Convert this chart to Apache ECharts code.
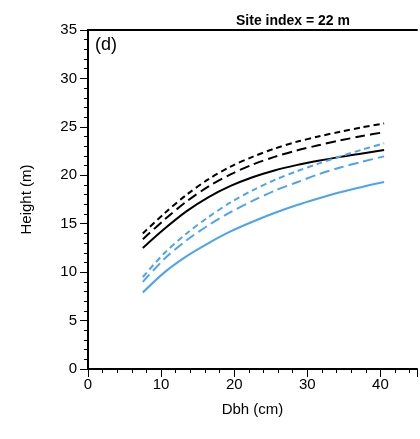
<!DOCTYPE html>
<html><head><meta charset="utf-8">
<script src="https://cdn.jsdelivr.net/npm/echarts@6/dist/echarts.min.js"></script>
<style>html,body{margin:0;padding:0;background:#fff}#c{width:420px;height:439px}</style>
</head><body><div id="c"></div>
<script>
const dbh = [7.5, 10.5, 13.5, 16.5, 19.5, 22.5, 25.5, 28.5, 31.5, 34.5, 37.5, 40.5];
const blackShortDash = [14.0, 16.1, 18.0, 19.6, 20.9, 21.9, 22.75, 23.45, 24.0, 24.5, 24.95, 25.35];
const blackLongDash  = [13.4, 15.45, 17.3, 18.85, 20.1, 21.1, 21.9, 22.55, 23.1, 23.6, 24.05, 24.45];
const blackSolid     = [12.5, 14.5, 16.3, 17.75, 18.9, 19.8, 20.5, 21.05, 21.5, 21.9, 22.25, 22.6];
const blueShortDash  = [9.5, 12.0, 14.0, 15.7, 17.2, 18.45, 19.5, 20.4, 21.2, 21.95, 22.65, 23.3];
const blueLongDash   = [9.0, 11.4, 13.3, 14.85, 16.2, 17.35, 18.4, 19.25, 20.1, 20.8, 21.4, 21.95];
const blueSolid      = [7.9, 10.0, 11.65, 13.0, 14.2, 15.2, 16.1, 16.9, 17.6, 18.25, 18.8, 19.3];
const xTicks = [0, 10, 20, 30, 40];
const titleText = 'Site index = 22 m';
const panelLabel = '(d)';

const BLACK = '#000000', BLUE = '#4ca3f2';
const FONT = 'Liberation Sans, Arial, sans-serif';
function mk(vals, color, dash) {
  return {
    type: 'line', data: dbh.map((x, i) => [x, vals[i]]), smooth: 0.3,
    showSymbol: false, symbol: 'none',
    lineStyle: { color: color, width: 2, type: dash }
  };
}
const chart = echarts.init(document.getElementById('c'));
chart.setOption({
  animation: false,
  title: { text: titleText, left: 288, top: 9, textAlign: 'center',
    textStyle: { fontFamily: FONT, fontSize: 14, fontWeight: 'bold', color: '#000' } },
  grid: { left: 88, top: 30, bottom: 70, right: -5.5, containLabel: false },
  xAxis: [{
    type: 'value', min: 0, max: 45, interval: 10,
    name: 'Dbh (cm)', nameLocation: 'middle', nameGap: 33,
    nameTextStyle: { fontFamily: FONT, fontSize: 15, color: '#000' },
    axisLine: { lineStyle: { color: '#000', width: 2 } },
    axisTick: { length: 8, lineStyle: { color: '#000', width: 1 } },
    minorTick: { show: true, splitNumber: 5, length: 4, lineStyle: { color: '#000', width: 1 } },
    axisLabel: { margin: 8, fontFamily: FONT, fontSize: 15, color: '#000',
      formatter: v => xTicks.indexOf(v) >= 0 ? String(v) : '' },
    splitLine: { show: false }
  }, {
    type: 'value', position: 'top', min: 0, max: 45,
    axisLine: { show: true, onZero: false, lineStyle: { color: '#000', width: 2 } },
    axisTick: { show: false }, axisLabel: { show: false }, splitLine: { show: false }
  }],
  yAxis: {
    type: 'value', min: 0, max: 35, interval: 5,
    name: 'Height (m)', nameLocation: 'middle', nameGap: 54,
    nameTextStyle: { fontFamily: FONT, fontSize: 15, color: '#000' },
    axisLine: { lineStyle: { color: '#000', width: 2 } },
    axisTick: { length: 8, lineStyle: { color: '#000', width: 1 } },
    minorTick: { show: true, splitNumber: 5, length: 4, lineStyle: { color: '#000', width: 1 } },
    axisLabel: { margin: 11, fontFamily: FONT, fontSize: 15, color: '#000' },
    splitLine: { show: false }
  },
  graphic: [{ type: 'text', left: 95, top: 36,
    style: { text: panelLabel, font: '18px ' + FONT, fill: '#000' } }],
  series: [
    mk(blackShortDash, BLACK, [6, 4]),
    mk(blackLongDash, BLACK, [10, 5]),
    mk(blackSolid, BLACK, 'solid'),
    mk(blueShortDash, BLUE, [6, 4]),
    mk(blueLongDash, BLUE, [10, 5]),
    mk(blueSolid, BLUE, 'solid')
  ]
});
</script></body></html>
